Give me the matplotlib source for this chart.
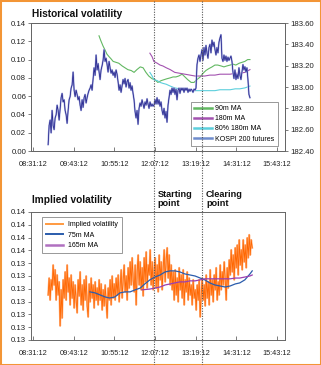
import numpy as np
import matplotlib
matplotlib.use("Agg")
import matplotlib.pyplot as plt
from matplotlib.lines import Line2D
from matplotlib.patches import Rectangle
from matplotlib.transforms import blended_transform_factory

plt.rcParams['font.family'] = ['Liberation Sans', 'DejaVu Sans']

# ---------------- data ----------------
time_tick_labels = ["08:31:12", "09:43:12", "10:55:12", "12:07:12",
                    "13:19:12", "14:31:12", "15:43:12"]
hist_vol_ticks = [0.00, 0.02, 0.04, 0.06, 0.08, 0.10, 0.12, 0.14]
kospi_ticks = [182.40, 182.60, 182.80, 183.00, 183.20, 183.40, 183.60]
iv_ticks = [0.1315, 0.1320, 0.1325, 0.1330, 0.1335, 0.1340, 0.1345,
            0.1350, 0.1355, 0.1360, 0.1365]
iv_tick_labels = ["0.13", "0.13", "0.13", "0.13", "0.13", "0.13", "0.13",
                  "0.14", "0.14", "0.14", "0.14"]

# KOSPI 200 futures, sampled evenly between these times
kospi_start, kospi_end = "08:58", "14:55"
kospi = [
    182.46, 182.64, 182.69, 182.57, 182.78, 182.64, 182.60, 182.71, 182.74, 182.83,
    182.78, 182.69, 182.80, 182.90, 182.94, 182.86, 182.88, 182.78, 182.74, 182.66,
    182.78, 182.88, 182.91, 182.99, 183.02, 183.14, 182.97, 182.91, 182.97, 182.93,
    182.88, 182.91, 182.83, 182.78, 182.88, 182.81, 182.90, 182.93, 182.85, 182.90,
    182.94, 182.97, 182.99, 183.02, 182.97, 183.07, 183.18, 183.11, 183.30, 183.16,
    183.22, 183.14, 183.07, 183.16, 183.20, 183.25, 183.35, 183.24, 183.27, 183.21,
    183.14, 183.24, 183.18, 183.13, 183.16, 183.11, 183.14, 183.09, 183.16, 183.12,
    183.05, 182.97, 183.02, 182.95, 183.01, 183.07, 183.03, 183.08, 183.00, 183.05,
    183.07, 182.99, 183.04, 182.97, 183.01, 182.94, 182.88, 182.77, 182.71, 182.78,
    182.65, 182.80, 182.85, 182.82, 182.88, 182.84, 182.80, 182.86, 182.83, 182.89,
    182.84, 182.80, 182.86, 182.82, 182.84, 182.82, 182.83, 182.88, 182.84, 182.90,
    182.84, 182.88, 182.82, 182.86, 182.78, 182.74, 182.80, 182.71, 182.77, 182.67,
    182.83, 182.90, 182.97, 182.93, 182.99, 182.95, 182.99, 182.93, 182.98, 182.88,
    182.97, 182.99, 182.94, 182.99, 182.97, 182.99, 182.95, 182.99, 182.97, 182.99,
    182.95, 182.98, 182.96, 182.98, 182.97, 182.95, 182.98, 182.97, 182.99, 183.21,
    183.27, 183.30, 183.24, 183.30, 183.35, 183.25, 183.37, 183.30, 183.39, 183.32,
    183.27, 183.37, 183.40, 183.32, 183.44, 183.38, 183.42, 183.35, 183.30, 183.37,
    183.32, 183.42, 183.46, 183.49, 183.27, 183.24, 183.30, 183.25, 183.29, 183.24,
    183.28, 183.25, 183.27, 183.29, 183.24, 183.14, 183.08, 183.16, 183.07, 183.12,
    183.08, 183.18, 183.11, 183.07, 183.14, 183.21, 183.16, 183.19, 183.14, 183.18,
    183.07, 182.93, 182.90,
]

ma90_times = [
    "10:28", "10:31", "10:35", "10:39", "10:42", "10:46", "10:49", "10:53",
    "10:58", "11:03", "11:09", "11:14", "11:19", "11:25", "11:30", "11:35", "11:41", "11:46",
    "11:51", "11:56", "12:02", "12:07", "12:12", "12:18", "12:23", "12:28", "12:34", "12:39",
    "12:44", "12:49", "12:55", "13:00", "13:05", "13:11", "13:16", "13:21", "13:27", "13:32",
    "13:37", "13:42", "13:48", "13:53", "13:58", "14:04", "14:09", "14:14", "14:20", "14:25",
    "14:30", "14:36", "14:41", "14:46", "14:51", "14:55",
]
ma90 = [
    0.126, 0.121, 0.115, 0.110, 0.106, 0.103, 0.101, 0.098,
    0.097, 0.096, 0.093, 0.091, 0.089, 0.088, 0.086, 0.089, 0.092, 0.091,
    0.086, 0.082, 0.079, 0.078, 0.075, 0.077, 0.078, 0.079, 0.080, 0.081,
    0.081, 0.082, 0.084, 0.081, 0.078, 0.075, 0.075, 0.078, 0.081, 0.085,
    0.088, 0.090, 0.092, 0.094, 0.094, 0.093, 0.092, 0.093, 0.094, 0.095,
    0.094, 0.096, 0.097, 0.098, 0.100, 0.100,
]

ma180_times = [
    "11:58", "12:02", "12:05", "12:11", "12:16", "12:21", "12:27", "12:34",
    "12:42", "12:51", "13:00", "13:09", "13:18", "13:27", "13:35", "13:44",
    "13:53", "14:02", "14:11", "14:20", "14:29", "14:37", "14:46", "14:55",
]
ma180 = [
    0.107, 0.103, 0.098, 0.096, 0.094, 0.093, 0.091, 0.089,
    0.086, 0.085, 0.084, 0.083, 0.082, 0.082, 0.082, 0.083,
    0.083, 0.084, 0.084, 0.084, 0.085, 0.085, 0.086, 0.089,
]
ma180_80pct = [
    0.086, 0.082, 0.078, 0.077, 0.075, 0.074, 0.073, 0.071,
    0.069, 0.068, 0.067, 0.066, 0.066, 0.066, 0.066, 0.066,
    0.066, 0.067, 0.067, 0.067, 0.068, 0.068, 0.069, 0.071,
]

# Implied volatility, sampled evenly between these times
iv_start, iv_end = "08:58", "14:59"
implied_vol = [
    0.13326, 0.13392, 0.13306, 0.13385, 0.13346, 0.13443, 0.13365, 0.13424, 0.13306, 0.13404,
    0.13326, 0.13377, 0.13205, 0.13346, 0.13236, 0.13385, 0.13314, 0.13416, 0.13306, 0.13443,
    0.13338, 0.13392, 0.13287, 0.13404, 0.13314, 0.13377, 0.13275, 0.13365, 0.13306, 0.13256,
    0.13385, 0.13322, 0.13416, 0.13287, 0.13365, 0.13267, 0.13385, 0.13306, 0.13400, 0.13283,
    0.13240, 0.13369, 0.13299, 0.13392, 0.13314, 0.13365, 0.13275, 0.13377, 0.13306, 0.13353,
    0.13287, 0.13385, 0.13306, 0.13369, 0.13267, 0.13346, 0.13283, 0.13365, 0.13299, 0.13236,
    0.13353, 0.13306, 0.13385, 0.13287, 0.13400, 0.13314, 0.13369, 0.13306, 0.13392, 0.13326,
    0.13404, 0.13299, 0.13365, 0.13424, 0.13314, 0.13385, 0.13443, 0.13338, 0.13400, 0.13306,
    0.13432, 0.13353, 0.13455, 0.13365, 0.13471, 0.13385, 0.13338, 0.13443, 0.13287, 0.13416,
    0.13482, 0.13365, 0.13455, 0.13346, 0.13432, 0.13322, 0.13471, 0.13377, 0.13494, 0.13353,
    0.13443, 0.13404, 0.13502, 0.13365, 0.13455, 0.13346, 0.13424, 0.13471, 0.13353, 0.13443,
    0.13338, 0.13482, 0.13385, 0.13455, 0.13346, 0.13432, 0.13502, 0.13377, 0.13463, 0.13510,
    0.13392, 0.13482, 0.13365, 0.13443, 0.13346, 0.13416, 0.13306, 0.13424, 0.13326, 0.13392,
    0.13299, 0.13432, 0.13346, 0.13404, 0.13314, 0.13424, 0.13287, 0.13385, 0.13338, 0.13416,
    0.13306, 0.13392, 0.13326, 0.13365, 0.13287, 0.13385, 0.13314, 0.13346, 0.13267, 0.13365,
    0.13306, 0.13385, 0.13240, 0.13326, 0.13392, 0.13306, 0.13365, 0.13283, 0.13404, 0.13314,
    0.13377, 0.13287, 0.13424, 0.13326, 0.13385, 0.13299, 0.13404, 0.13346, 0.13432, 0.13306,
    0.13377, 0.13326, 0.13443, 0.13346, 0.13416, 0.13365, 0.13455, 0.13385, 0.13306, 0.13432,
    0.13353, 0.13463, 0.13404, 0.13502, 0.13416, 0.13482, 0.13385, 0.13510, 0.13432, 0.13521,
    0.13404, 0.13541, 0.13443, 0.13502, 0.13424, 0.13541, 0.13455, 0.13521, 0.13432, 0.13549,
    0.13471, 0.13561, 0.13482, 0.13541, 0.13510,
]

iv_ma75_times = [
    "10:12", "10:21", "10:30", "10:39", "10:47", "10:56", "11:05", "11:14", "11:23", "11:32",
    "11:41", "11:49", "11:58", "12:07", "12:16", "12:25", "12:34", "12:42", "12:51", "13:00",
    "13:09", "13:18", "13:27", "13:35", "13:44", "13:53", "14:02", "14:11", "14:20", "14:29",
    "14:37", "14:46", "14:55", "14:59",
]
iv_ma75 = [
    0.13338, 0.13334, 0.13326, 0.13318, 0.13314, 0.13318, 0.13334, 0.13338, 0.13338, 0.13346,
    0.13353, 0.13369, 0.13385, 0.13396, 0.13404, 0.13416, 0.13420, 0.13420, 0.13416, 0.13408,
    0.13404, 0.13400, 0.13392, 0.13385, 0.13373, 0.13365, 0.13361, 0.13357, 0.13361, 0.13369,
    0.13373, 0.13385, 0.13408, 0.13420,
]

iv_ma165_times = [
    "11:44", "11:58", "12:07", "12:16", "12:25", "12:34", "12:42", "12:51", "13:00", "13:09",
    "13:18", "13:27", "13:35", "13:44", "13:53", "14:02", "14:11", "14:20", "14:29", "14:37",
    "14:46", "14:55", "14:59",
]
iv_ma165 = [
    0.13346, 0.13349, 0.13353, 0.13357, 0.13365, 0.13369, 0.13373, 0.13377, 0.13377, 0.13381,
    0.13381, 0.13385, 0.13389, 0.13389, 0.13389, 0.13389, 0.13389, 0.13389, 0.13392, 0.13392,
    0.13396, 0.13400, 0.13404,
]

event_times = ["12:05", "13:31"]
event_labels = ["Starting\npoint", "Clearing\npoint"]


def to_min(s):
    parts = [int(p) for p in s.split(":")]
    while len(parts) < 3:
        parts.append(0)
    return parts[0] * 60 + parts[1] + parts[2] / 60.0


def tmin(lst):
    return np.array([to_min(s) for s in lst])


# ---------------- figure ----------------
W, H = 321, 365
fig = plt.figure(figsize=(W / 100, H / 100), dpi=100)
fig.patch.set_facecolor("white")

ax_l, ax_r = 31, 285
ax1 = fig.add_axes([ax_l / W, 1 - 151 / H, (ax_r - ax_l) / W, 128 / H])
ax2 = fig.add_axes([ax_l / W, 1 - 340 / H, (ax_r - ax_l) / W, 128 / H])

xticks = tmin(time_tick_labels)
xlim = (507.7, 957.0)

spine_col = "#666666"
lab_col = "#222222"

c_green = "#62b862"
c_purple = "#a352b0"
c_cyan = "#5ccfdc"
c_navy = "#20208a"
c_navy_light = "#a8aee0"
c_kospi_leg = "#6f8ccc"
c_orange = "#ff6600"
c_orange_light = "#ffb584"
c_blue = "#2a5cac"
c_purple2 = "#9a3fb0"


def style_axes(ax):
    ax.set_xlim(*xlim)
    ax.set_xticks(xticks)
    ax.set_xticklabels(time_tick_labels)
    ax.tick_params(axis="x", direction="in", length=3, width=0.6, color=spine_col,
                   labelsize=5.3, pad=7, labelcolor=lab_col)
    ax.tick_params(axis="y", direction="out", length=2, width=0.6, color=spine_col,
                   labelsize=5.6, pad=1.5, labelcolor=lab_col)
    for s in ax.spines.values():
        s.set_color(spine_col)
        s.set_linewidth(0.7)


# ---- historical volatility ----
style_axes(ax1)
ax1.set_ylim(0, 0.14)
ax1.set_yticks(hist_vol_ticks)
ax1.set_yticklabels([f"{v:.2f}" for v in hist_vol_ticks])

ax1.plot(tmin(ma90_times), ma90, color=c_green, lw=0.8)
ax1.plot(tmin(ma180_times), ma180, color=c_purple, lw=0.8)
ax1.plot(tmin(ma180_times), ma180_80pct, color=c_cyan, lw=0.8)

ax1b = ax1.twinx()
ax1b.set_xlim(*xlim)
ax1b.set_ylim(182.4, 183.6)
ax1b.set_yticks(kospi_ticks)
ax1b.set_yticklabels([f"{v:.2f}" for v in kospi_ticks])
ax1b.tick_params(axis="y", direction="out", length=2, width=0.6, color=spine_col,
                 labelsize=5.6, pad=1.5, labelcolor=lab_col)
for s in ax1b.spines.values():
    s.set_color(spine_col)
    s.set_linewidth(0.7)

kt = np.linspace(to_min(kospi_start), to_min(kospi_end), len(kospi))
ax1b.plot(kt, kospi, color=c_navy_light, lw=1.3)
ax1b.plot(kt, kospi, color=c_navy, lw=0.55)

hist_handles = [
    Line2D([], [], color=c_green, lw=1.8),
    Line2D([], [], color=c_purple, lw=1.8),
    Line2D([], [], color=c_cyan, lw=1.8),
    Line2D([], [], color=c_kospi_leg, lw=1.8),
]
leg1 = ax1b.legend(hist_handles, ["90m MA", "180m MA", "80% 180m MA", "KOSPI 200 futures"],
                   loc="lower right", bbox_to_anchor=(0.972, 0.039), borderaxespad=0,
                   fontsize=5, handlelength=2.5, handletextpad=0.5, labelspacing=0.45,
                   borderpad=0.5, fancybox=False, framealpha=1)
leg1.get_frame().set_edgecolor("#888888")
leg1.get_frame().set_linewidth(0.6)

fig.text(32 / W, 1 - 17 / H, "Historical volatility", fontsize=7.3,
         fontweight="bold", va="baseline", ha="left", color="#111111")

# ---- implied volatility ----
style_axes(ax2)
ax2.set_ylim(iv_ticks[0], iv_ticks[-1])
ax2.set_yticks(iv_ticks)
ax2.set_yticklabels(iv_tick_labels)

it = np.linspace(to_min(iv_start), to_min(iv_end), len(implied_vol))
ax2.plot(it, implied_vol, color=c_orange_light, lw=1.4)
ax2.plot(it, implied_vol, color=c_orange, lw=0.6)
ax2.plot(tmin(iv_ma75_times), iv_ma75, color=c_blue, lw=0.9)
ax2.plot(tmin(iv_ma165_times), iv_ma165, color=c_purple2, lw=0.9)

iv_handles = [
    Line2D([], [], color="#ff9a40", lw=1.4),
    Line2D([], [], color=c_blue, lw=1.4),
    Line2D([], [], color="#b070c0", lw=1.8),
]
leg2 = ax2.legend(iv_handles, ["Implied volatility", "75m MA", "165m MA"],
                  loc="upper left", bbox_to_anchor=(0.043, 0.961), borderaxespad=0,
                  fontsize=5, handlelength=2.5, handletextpad=0.6, labelspacing=0.5,
                  borderpad=0.6, fancybox=False, framealpha=1)
leg2.get_frame().set_edgecolor("#888888")
leg2.get_frame().set_linewidth(0.6)

fig.text(32 / W, 1 - 203 / H, "Implied volatility", fontsize=7.3,
         fontweight="bold", va="baseline", ha="left", color="#111111")

# ---- event markers spanning the whole figure ----
trans = blended_transform_factory(ax1.transData, fig.transFigure)
px_min = (xlim[1] - xlim[0]) / (ax_r - ax_l)
for t_s, lab in zip(event_times, event_labels):
    t = to_min(t_s)
    fig.add_artist(Line2D([t, t], [0, 1], transform=trans, color="#555555",
                          lw=0.8, ls=(0, (1, 1.3))))
    fig.text(t + 3.5 * px_min, 1 - 190 / H, lab, transform=trans, fontsize=6.6,
             fontweight="bold", va="top", ha="left", color="#111111", linespacing=1.05)

# frame around the whole graphic
fig.add_artist(Rectangle((0, 0), 1, 1, transform=fig.transFigure, fill=False,
                         edgecolor="#f39536", lw=2.2, clip_on=False))

fig.savefig("out.png", dpi=100)
